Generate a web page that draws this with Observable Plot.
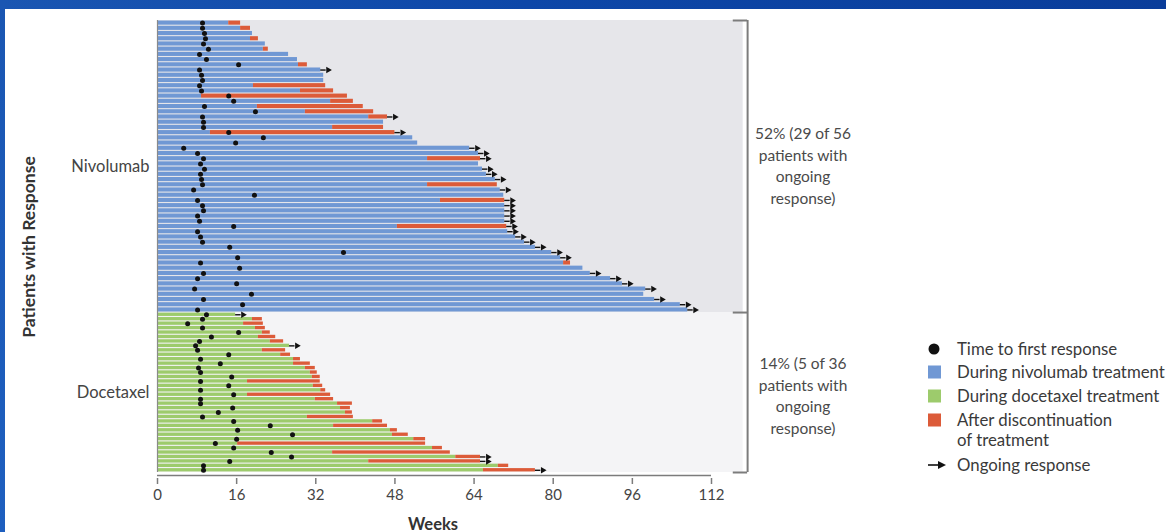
<!DOCTYPE html>
<html>
<head>
<meta charset="utf-8">
<script src="https://cdn.jsdelivr.net/npm/d3@7"></script>
<script src="https://cdn.jsdelivr.net/npm/@observablehq/plot@0.6"></script>
<style>
  html, body { margin:0; padding:0; width:1166px; height:532px; overflow:hidden; background:#fff; font-family: Lato, "Open Sans", sans-serif; }
  #wrap { position:relative; width:1166px; height:532px; }
  #topbar { position:absolute; left:0; top:0; width:1166px; height:9px; background:linear-gradient(90deg,#1a56b2,#0d47a8 45%,#0a3d9a); }
  #leftbar { position:absolute; left:0; top:0; width:5px; height:532px; background:linear-gradient(180deg,#1a56b2,#1e5fbf); }
  #chart { position:absolute; left:0; top:0; }
  .ann { position:absolute; width:160px; text-align:center; font-size:15.5px; line-height:21.5px; color:#4a4a4a; }
  #ylab { position:absolute; left:28px; top:247px; transform:translate(-50%,-50%) rotate(-90deg); font-weight:700; font-size:17.5px; color:#333; white-space:nowrap; }
  #xlab { position:absolute; left:433px; top:524px; transform:translate(-50%,-50%); font-weight:700; font-size:16.5px; color:#333; }
  .leg { position:absolute; left:957px; font-size:16.8px; color:#3a3a3a; line-height:19.5px; white-space:nowrap; }
  .sym { position:absolute; }
</style>
</head>
<body>
<div id="wrap">
  <div id="topbar"></div>
  <div id="leftbar"></div>
  <div id="chart"></div>
  <div id="ylab">Patients with Response</div>
  <div id="xlab">Weeks</div>
  <div class="ann" id="annN" style="left:723px; top:123px;"></div>
  <div class="ann" id="annD" style="left:723px; top:353px;"></div>
  <div id="legend"></div>
</div>
<script>
// ---------- data (weeks) ----------
const xTicks = [0, 16, 32, 48, 64, 80, 96, 112];
const arms = ["Nivolumab", "Docetaxel"];

// Nivolumab responders, top to bottom
const nivoResponse = [9.1, 9.1, 9.5, 9.7, 9.3, 10.3, 8.5, 9.9, 16.4, 8.5, 8.9, 9.1, 8.5, 8.9, 14.4, 15.4, 9.5, 19.8, 9.1, 9.3,
  9.3, 14.4, 21.4, 15.8, 5.3, 8.1, 9.3, 8.7, 9.5, 8.7, 8.9, 9.1, 7.3, 19.6, 8.1, 9.1, 9.3, 8.1, 8.5, 15.4,
  8.1, 8.7, 9.1, 14.6, 37.6, 16.2, 8.7, 16.6, 9.3, 8.1, 16.0, 7.5, 19.0, 9.3, 17.2, 8.1];
const nivoTreatEnd = [14.4, 16.8, 19.2, 18.8, 21.8, 21.4, 26.5, 28.3, 28.5, 33.0, 33.6, 33.6, 19.4, 28.9, 8.9, 35.0, 20.2, 29.9, 42.7, 45.7,
  35.4, 10.7, 51.6, 52.6, 63.1, 64.9, 54.6, 64.9, 65.7, 66.5, 68.3, 54.6, 69.3, 70.0, 57.2, 70.2, 70.2, 70.2, 70.2, 48.5,
  70.8, 72.4, 74.2, 76.4, 79.7, 81.5, 82.1, 86.0, 87.5, 91.6, 94.0, 98.7, 98.3, 100.5, 105.7, 107.2];
const nivoEnd = [16.8, 18.8, 19.2, 20.4, 21.8, 22.4, 26.5, 28.3, 30.3, 33.0, 33.6, 33.6, 34.0, 35.6, 38.4, 39.6, 41.6, 43.7, 46.5, 45.7,
  45.7, 48.0, 51.6, 52.6, 63.1, 64.9, 65.3, 64.9, 65.7, 66.5, 68.3, 68.7, 69.3, 70.0, 70.2, 70.2, 70.2, 70.2, 70.2, 70.6,
  70.8, 72.4, 74.2, 76.4, 79.7, 81.5, 83.5, 86.0, 87.5, 91.6, 94.0, 98.7, 98.3, 100.5, 105.7, 107.2];
const nivoOngoing = [0,0,0,0,0,0,0,0,0,1, 0,0,0,0,0,0,0,0,1,0, 0,1,0,0,1,1,1,0,1,1, 1,0,1,0,1,1,1,1,1,1,
  1,1,1,1,1,1,0,0,1,1, 1,1,0,1,1,1];

// Docetaxel responders, top to bottom
const doceResponse = [9.9, 9.1, 6.1, 9.1, 16.4, 10.9, 8.5, 7.7, 8.1, 14.4, 8.7, 12.7, 8.3, 8.7, 15.0, 8.7, 14.4, 8.7, 15.4, 8.7,
  8.7, 15.2, 12.3, 9.1, 15.4, 22.8, 16.2, 27.3, 16.0, 11.7, 15.4, 23.0, 27.1, 14.6, 9.3, 9.3];
const doceTreatEnd = [15.8, 19.2, 17.4, 19.8, 21.2, 20.4, 22.8, 26.7, 21.2, 24.9, 27.5, 27.5, 29.9, 30.9, 31.3, 18.2, 31.5, 33.0, 18.2, 31.9,
  36.4, 37.0, 38.0, 30.3, 43.5, 35.6, 47.1, 47.5, 51.8, 16.2, 55.6, 35.4, 60.3, 42.7, 68.9, 65.9];
const doceEnd = [15.8, 21.2, 21.4, 21.8, 22.8, 23.9, 25.5, 26.7, 25.9, 26.9, 28.9, 30.9, 31.9, 32.3, 32.9, 32.9, 33.4, 34.0, 35.0, 35.6,
  39.4, 39.0, 39.4, 39.6, 45.5, 46.5, 48.5, 50.7, 54.2, 54.2, 57.6, 59.2, 65.3, 65.3, 71.0, 76.4];
const doceOngoing = [1,0,0,0,0,0,0,1,0,0, 0,0,0,0,0,0,0,0,0,0, 0,0,0,0,0,0,0,0,0,0, 0,0,1,1,0,1];

const annotations = [
  ["52% (29 of 56", "patients with", "ongoing", "response)"],
  ["14% (5 of 36", "patients with", "ongoing", "response)"]
];
const legendItems = [
  {kind: "dot", label: "Time to first response"},
  {kind: "nivo", label: "During nivolumab treatment"},
  {kind: "doce", label: "During docetaxel treatment"},
  {kind: "after", label: "After discontinuation<br>of treatment"},
  {kind: "arrow", label: "Ongoing response"}
];

// ---------- styling / layout ----------
const COL = {nivo: "#7098d4", doce: "#9dcb6c", after: "#dc5b39", dot: "#111", bgN: "#e6e6ea", bgD: "#f4f4f6", frame: "#7c7c7c"};
const doceRowHeight = 0.852;   // docetaxel rows are drawn narrower than nivolumab rows
const panelRight = 118.4;      // grey panel extends a little past the last tick
const bracketX = 119.3;
const bracketTick = 2.9;
const arrowShaft = 1.1;

const rows = [
  ...nivoEnd.map((e, i) => ({arm: arms[0], pos: i, h: 1, resp: nivoResponse[i], treat: nivoTreatEnd[i], end: e, ongoing: nivoOngoing[i]})),
  ...doceEnd.map((e, j) => ({arm: arms[1], pos: nivoEnd.length + j * doceRowHeight, h: doceRowHeight, resp: doceResponse[j], treat: doceTreatEnd[j], end: e, ongoing: doceOngoing[j]}))
];
const split = nivoEnd.length;
const total = split + doceEnd.length * doceRowHeight;
const mid = d => d.pos + d.h / 2;
const nivoRows = rows.filter(d => d.arm === arms[0]);
const doceRows = rows.filter(d => d.arm === arms[1]);
const afterRows = rows.filter(d => d.end > d.treat + 0.01);
const ongoingRows = rows.filter(d => d.ongoing);
const armLabels = [{arm: arms[0], y: split / 2}, {arm: arms[1], y: (split + total) / 2}];

const barOpts = {insetTop: 0.55, insetBottom: 0.55};

const chart = Plot.plot({
  width: 1166, height: 532,
  marginLeft: 157, marginRight: 455, marginTop: 20, marginBottom: 57,
  x: {domain: [0, 112]},
  y: {domain: [0, total], range: [20, 472], axis: null},
  style: {fontFamily: "Lato, 'Open Sans', sans-serif", fontSize: "15px", color: "#444", background: "transparent", overflow: "visible"},
  marks: [
    Plot.rect([0], {x1: 0, x2: panelRight, y1: 0, y2: split, fill: COL.bgN}),
    Plot.rect([0], {x1: 0, x2: panelRight, y1: split, y2: total, fill: COL.bgD}),
    Plot.rect(nivoRows, {x1: 0, x2: "treat", y1: "pos", y2: d => d.pos + d.h, fill: COL.nivo, ...barOpts}),
    Plot.rect(doceRows, {x1: 0, x2: "treat", y1: "pos", y2: d => d.pos + d.h, fill: COL.doce, ...barOpts}),
    Plot.rect(afterRows, {x1: "treat", x2: "end", y1: "pos", y2: d => d.pos + d.h, fill: COL.after, ...barOpts}),
    Plot.dot(rows, {x: "resp", y: mid, r: 2.5, fill: COL.dot}),
    Plot.ruleY(ongoingRows, {y: mid, x1: "end", x2: d => d.end + arrowShaft, stroke: COL.dot, strokeWidth: 1.4}),
    Plot.dot(ongoingRows, {x: d => d.end + arrowShaft + 0.4, y: mid, symbol: "triangle2", rotate: 90, r: 3.1, fill: COL.dot}),
    Plot.ruleX([0], {y1: 0, y2: total, stroke: "#8a8a8a", strokeWidth: 1.2}),
    Plot.ruleX([bracketX], {y1: 0, y2: total, stroke: COL.frame, strokeWidth: 2}),
    Plot.ruleY([0, split, total], {x1: bracketX - bracketTick, x2: bracketX, stroke: COL.frame, strokeWidth: 2}),
    Plot.ruleY([total], {x1: 0, x2: 112, dy: 3, stroke: COL.frame, strokeWidth: 1.5}),
    Plot.axisX({ticks: xTicks, tickSize: 6, tickPadding: 5, label: null, stroke: COL.frame, strokeWidth: 1.5, fill: "#444", fontSize: 15, dy: 3}),
    Plot.text(armLabels, {x: 0, y: "y", text: "arm", dx: -8, textAnchor: "end", fontSize: 16.5, fill: "#444"})
  ]
});
document.getElementById("chart").appendChild(chart);

document.getElementById("annN").innerHTML = annotations[0].join("<br>");
document.getElementById("annD").innerHTML = annotations[1].join("<br>");

// legend
const legTops = [339, 362, 386, 410, 455];
const leg = document.getElementById("legend");
legendItems.forEach((it, i) => {
  const t = legTops[i];
  const lab = document.createElement("div");
  lab.className = "leg";
  lab.style.top = t + "px";
  lab.innerHTML = it.label;
  leg.appendChild(lab);
  const s = document.createElementNS("http://www.w3.org/2000/svg", "svg");
  s.setAttribute("class", "sym");
  s.setAttribute("width", 24); s.setAttribute("height", 20);
  s.style.left = "926px"; s.style.top = t + "px";
  let inner = "";
  if (it.kind === "dot") inner = `<circle cx="8" cy="10" r="5.5" fill="${COL.dot}"/>`;
  else if (it.kind === "arrow") inner = `<line x1="2" y1="10" x2="13" y2="10" stroke="${COL.dot}" stroke-width="1.6"/><path d="M12,6 L20,10 L12,14 Z" fill="${COL.dot}"/>`;
  else inner = `<rect x="2" y="3.5" width="13" height="13" fill="${COL[it.kind]}"/>`;
  s.innerHTML = inner;
  leg.appendChild(s);
});
</script>
</body>
</html>
